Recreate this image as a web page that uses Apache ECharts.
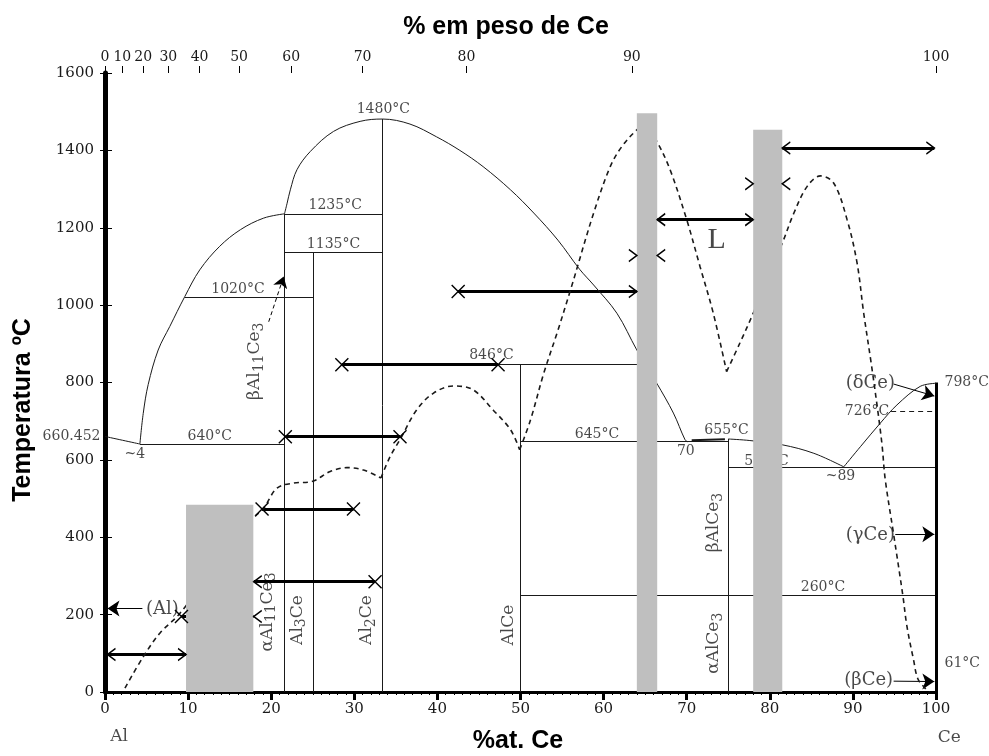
<!DOCTYPE html>
<html>
<head>
<meta charset="utf-8">
<title>Diagrama Al-Ce</title>
<script src="https://cdn.jsdelivr.net/npm/echarts@6/dist/echarts.min.js"></script>
<style>
  html, body { margin: 0; padding: 0; background: #fff; }
  #chart { width: 989px; height: 756px; }
</style>
</head>
<body>
<div id="chart"></div>
<script>
// escala superior: % em peso (posicao lida em %at.)
var wtLabels = ['0', '10', '20', '30', '40', '50', '60', '70', '80', '90', '100'];
var wtTickAt = [0, 2.09, 4.59, 7.62, 11.38, 16.14, 22.41, 31.0, 43.5, 63.4, 100];

// linhas de fase (finas, continuas) [%at, T]
var liqLeftA = [[0, 660.5], [4.2, 641]];
var liqLeftB = [[4.2, 641], [4.6, 720], [5.2, 795], [6.4, 884], [7.8, 945], [9.6, 1022], [11.4, 1091],
    [13.8, 1152], [16.3, 1195], [19.1, 1225], [21.6, 1236]];
var liqTop = [[21.6, 1236], [21.9, 1262], [22.3, 1298], [23.1, 1350], [24.7, 1397], [27.5, 1449], [30.7, 1475],
    [33.4, 1481], [36.7, 1468], [39.9, 1435], [42.7, 1400], [45.5, 1358], [48.8, 1298], [51.6, 1238],
    [54.5, 1168], [57.1, 1093], [58.8, 1052], [61.6, 979], [64.0, 884], [66.4, 798], [68.4, 721],
    [69.8, 652], [70.1, 647]];
var liqRightA = [[75, 654], [77.6, 650], [81.5, 639], [85.3, 617], [88.9, 582]];
var liqRightB = [[88.9, 582], [90.9, 634], [93.3, 695], [95.3, 742], [98.1, 790], [100, 798]];
var phaseSegs = [
    [[21.6, 0], [21.6, 1236]], [[25.05, 0], [25.05, 1136]], [[33.4, 0], [33.4, 1481]],
    [[50, 0], [50, 846]], [[75, 0], [75, 654]],
    [[21.6, 1236], [33.4, 1236]], [[21.6, 1136], [33.4, 1136]], [[9.6, 1021], [25.05, 1021]],
    [[4.2, 641], [21.6, 641]], [[47.3, 846], [65, 846]], [[50, 647], [75, 647]],
    [[75, 580], [100, 580]], [[50, 251], [100, 251]]
];
var seg655 = [[[70.6, 651], [74.6, 653]]];
var seg726 = [[[94.6, 726], [100, 726]]];
var rightThick = [[[100, 0], [100, 800]]];

// curva tracejada
var dashA = [[2.4, 10], [4.6, 91], [6.6, 152], [9.0, 203], [13.5, 330], [17.9, 450], [19.1, 475], [20.7, 527],
    [22.7, 540], [24.9, 544], [27.1, 570], [29.1, 580], [31.1, 574], [33.2, 553]];
var dashB = [[33.2, 553], [34.3, 608], [35.6, 656], [37.5, 729], [39.5, 772], [41.9, 791], [44.3, 781],
    [46.7, 729], [48.8, 678], [49.9, 626]];
var dashC = [[49.9, 626], [51.2, 703], [52.8, 824], [54.4, 928], [56.1, 1045], [58.8, 1238], [60.8, 1358],
    [62.2, 1410], [64.0, 1453], [64.9, 1466], [66.4, 1423], [68.0, 1350], [70.0, 1221], [71.6, 1100],
    [73.2, 979], [74.8, 828]];
var dashD = [[74.8, 828], [76.4, 902], [78.0, 979], [79.8, 1075], [81.5, 1160], [82.9, 1238], [84.5, 1307],
    [86.1, 1334], [87.7, 1315], [89.3, 1221], [90.5, 1109], [91.3, 979], [92.2, 850], [93.0, 726],
    [93.5, 640], [93.9, 548], [94.9, 408], [96.0, 251], [96.5, 170], [97.3, 83], [97.8, 35], [98.6, 12], [99.2, 0]];

// setas grossas [x1, x2, T]
var thickLines = [[0, 9.75, 97], [9.2, 17.9, 195], [17.9, 32.5, 285], [18.9, 29.9, 473], [21.7, 35.5, 660],
    [28.5, 47.3, 846], [42.5, 64.0, 1035], [66.45, 78.0, 1221], [81.5, 99.8, 1406]];
var crossMarks = [[9.2, 195], [18.9, 473], [29.9, 473], [32.5, 285], [21.7, 660], [35.5, 660],
    [28.5, 846], [47.3, 846], [42.5, 1035]];
var leftHeads = [[0.3, 97], [17.9, 195], [17.9, 285], [66.45, 1128], [66.45, 1221], [81.5, 1314], [81.5, 1406]];
var rightHeads = [[9.75, 97], [64.0, 1035], [64.0, 1128], [78.0, 1221], [78.0, 1314], [99.8, 1406]];

// barras cinzas [x0, x1, topo]
var grayBars = [[9.75, 17.85, 484], [64.0, 66.45, 1496], [78.0, 81.5, 1453]];

// setas finas das fases
var phaseArrows = [[[4.5, 216], [0.3, 216]], [[94.9, 796], [99.8, 765]], [[95.1, 408], [99.8, 408]],
    [[94.9, 28], [99.8, 27]]];
var betaArrow = [[[19.7, 957], [21.5, 1074]]];

// textos
var tempLabels = [['1480°C', 33.5, 1505], ['1235°C', 27.7, 1259], ['1135°C', 27.5, 1158],
    ['1020°C', 16.0, 1040], ['640°C', 12.6, 662], ['~4', 3.6, 613], ['846°C', 46.5, 869],
    ['645°C', 59.2, 665], ['70', 69.9, 621], ['655°C', 74.8, 677], ['592°C', 79.6, 596],
    ['~89', 88.5, 557], ['726°C', 91.7, 725], ['260°C', 86.4, 271]];
var phaseLabels = [['(Al)', 6.9, 214], ['(δCe)', 92.1, 798], ['(γCe)', 92.1, 404], ['(βCe)', 91.9, 31]];
var rotLabels = [['βAl_11Ce_3', 18.2, 855], ['αAl_11Ce_3', 19.7, 207], ['Al_3Ce', 23.3, 186],
    ['Al_2Ce', 31.7, 186], ['AlCe', 48.7, 173], ['βAlCe_3', 73.4, 438], ['αAlCe_3', 73.4, 126]];
var leftOut = [['660.452', 0, 662]];
var rightOut = [['798°C', 100, 800], ['61°C', 100, 75]];
var endLabels = [['Al', 1.7, -116], ['Ce', 101.6, -119]];

var chart = echarts.init(document.getElementById('chart'));
var serif = '"DejaVu Serif", serif';
var ink = '#1a1a1a';

function toPoints(list) {
    return list.map(function (d) { return { name: d[0], value: [d[1], d[2]] }; });
}
function toRich(txt) {
    return txt.split(/(_\d+)/).filter(function (p) { return p; }).map(function (p) {
        return p.charAt(0) === '_' ? '{s|' + p.slice(1) + '}' : '{n|' + p + '}';
    }).join('');
}
function curve(data, dashed) {
    return {
        type: 'line', data: data, symbol: 'none', smooth: 0.35, silent: true, z: 2,
        lineStyle: { color: ink, width: dashed ? 1.6 : 1, type: dashed ? [5, 4] : 'solid' }
    };
}
function segs(list, style, extra) {
    style.opacity = 1;
    var s = {
        type: 'lines', coordinateSystem: 'cartesian2d', silent: true, z: 2,
        data: list.map(function (c) { return { coords: c }; }),
        lineStyle: style
    };
    for (var k in extra) s[k] = extra[k];
    return s;
}
function textSeries(list, label, z) {
    return {
        type: 'scatter', data: toPoints(list), symbolSize: 1, clip: false, silent: true, z: z || 3,
        itemStyle: { color: 'rgba(0,0,0,0)' },
        label: Object.assign({ show: true, formatter: '{b}', color: ink, fontFamily: serif }, label)
    };
}
var markStyle = { color: 'rgba(0,0,0,0)', borderColor: '#000', borderWidth: 1.4, opacity: 1 };

var option = {
    animation: false,
    backgroundColor: '#fff',
    grid: { left: 105, right: 53, top: 73, bottom: 64 },
    xAxis: [{
        type: 'value', position: 'bottom', min: 0, max: 100, interval: 10,
        axisLine: { show: true, lineStyle: { color: '#000', width: 3 } },
        axisTick: { show: true, length: 8, lineStyle: { color: '#000', width: 3 } },
        minorTick: { show: true, splitNumber: 10, length: 3, lineStyle: { color: '#000' } },
        splitLine: { show: false },
        axisLabel: { color: ink, fontFamily: serif, fontSize: 15, margin: 10 }
    }, {
        type: 'value', position: 'top', min: 0, max: 100, interval: 10,
        axisLine: { show: true, lineStyle: { color: '#000', width: 1 } },
        axisTick: { show: true, inside: true, length: 8, lineStyle: { color: '#000' } },
        minorTick: { show: true, splitNumber: 10, length: 3, lineStyle: { color: '#000' } },
        splitLine: { show: false },
        axisLabel: { show: false }
    }, {
        type: 'value', position: 'top', min: 0, max: 100,
        axisLine: { show: false },
        axisTick: { show: true, length: 7, customValues: wtTickAt, lineStyle: { color: '#000' } },
        splitLine: { show: false },
        axisLabel: {
            show: true, customValues: wtTickAt, color: ink, fontFamily: serif, fontSize: 14, margin: 9,
            formatter: function (v) {
                var best = 0;
                for (var i = 0; i < wtTickAt.length; i++) {
                    if (Math.abs(wtTickAt[i] - v) < Math.abs(wtTickAt[best] - v)) best = i;
                }
                return wtLabels[best];
            }
        }
    }],
    yAxis: [{
        type: 'value', position: 'left', min: 0, max: 1600, interval: 200,
        axisLine: { show: true, lineStyle: { color: '#000', width: 5 } },
        axisTick: { show: true, length: 5, lineStyle: { color: '#000' } },
        splitLine: { show: false },
        axisLabel: { color: ink, fontFamily: serif, fontSize: 15, margin: 11,
            formatter: function (v) { return String(v); } }
    }, {
        type: 'value', position: 'right', min: 0, max: 1600, interval: 200,
        axisLine: { show: true, lineStyle: { color: '#000', width: 1 } },
        axisTick: { show: true, length: 7, lineStyle: { color: '#000' } },
        minorTick: { show: true, splitNumber: 10, length: 3, lineStyle: { color: '#000' } },
        splitLine: { show: false },
        axisLabel: { show: false }
    }],
    graphic: [
        { type: 'text', x: 506, y: 27, style: { text: '% em peso de Ce', font: 'bold 25px "Liberation Sans", Arial',
            fill: '#000', align: 'center', verticalAlign: 'middle', textAlign: 'center', textVerticalAlign: 'middle' } },
        { type: 'text', x: 518, y: 741, style: { text: '%at. Ce', font: 'bold 25px "Liberation Sans", Arial',
            fill: '#000', align: 'center', verticalAlign: 'middle', textAlign: 'center', textVerticalAlign: 'middle' } },
        { type: 'text', x: 23, y: 410, rotation: Math.PI / 2, style: { text: 'Temperatura ºC',
            font: 'bold 25px "Liberation Sans", Arial', fill: '#000', align: 'center', verticalAlign: 'middle',
            textAlign: 'center', textVerticalAlign: 'middle' } }
    ],
    series: [
        curve(liqLeftA), curve(liqLeftB), curve(liqTop), curve(liqRightA), curve(liqRightB),
        segs(phaseSegs, { color: ink, width: 1 }),
        segs(seg655, { color: ink, width: 2 }),
        segs(seg726, { color: ink, width: 1.2, type: [5, 4] }),
        segs(rightThick, { color: '#000', width: 3 }),
        curve(dashA, true), curve(dashB, true), curve(dashC, true), curve(dashD, true),
        segs(thickLines.map(function (d) { return [[d[0], d[2]], [d[1], d[2]]]; }), { color: '#000', width: 3 }),
        segs(phaseArrows, { color: '#000', width: 1 }, { symbol: ['none', 'arrow'], symbolSize: [9, 12] }),
        segs(betaArrow, { color: '#000', width: 1, type: [4, 3] }, { symbol: ['none', 'arrow'], symbolSize: [7, 11] }),
        textSeries(tempLabels, { position: 'inside', fontSize: 14 }),
        textSeries(phaseLabels, { position: 'inside', fontSize: 18 }),
        textSeries(rotLabels.map(function (d) { return [toRich(d[0]), d[1], d[2]]; }), {
            position: 'inside', rotate: 90,
            rich: {
                n: { fontFamily: serif, fontSize: 17, lineHeight: 20, verticalAlign: 'top', color: ink },
                s: { fontFamily: serif, fontSize: 14, lineHeight: 10, verticalAlign: 'bottom', color: ink }
            }
        }),
        textSeries([['L', 73.6, 1169]], { position: 'inside', fontSize: 30, fontFamily: '"Liberation Serif", serif' }),
        textSeries(leftOut, { position: 'left', distance: 4, fontSize: 14 }),
        textSeries(rightOut, { position: 'right', distance: 8, fontSize: 14 }),
        textSeries(endLabels, { position: 'inside', fontSize: 17 }),
        {
            type: 'custom', silent: true, z: 5, data: grayBars,
            encode: { x: [0, 1], y: 2 },
            renderItem: function (params, api) {
                var p0 = api.coord([api.value(0), api.value(2)]);
                var p1 = api.coord([api.value(1), 0]);
                return { type: 'rect', shape: { x: p0[0], y: p0[1], width: p1[0] - p0[0], height: p1[1] - p0[1] },
                    style: { fill: '#bfbfbf' } };
            }
        },
        {
            type: 'scatter', data: crossMarks, silent: true, z: 6, clip: false,
            symbol: 'path://M0,0L10,10M10,0L0,10', symbolSize: 13, itemStyle: markStyle
        },
        {
            type: 'scatter', data: leftHeads, silent: true, z: 6, clip: false,
            symbol: 'path://M10,0L0,5L10,10', symbolSize: [8, 12], symbolOffset: [4, 0], itemStyle: markStyle
        },
        {
            type: 'scatter', data: rightHeads, silent: true, z: 6, clip: false,
            symbol: 'path://M0,0L10,5L0,10', symbolSize: [8, 12], symbolOffset: [-4, 0], itemStyle: markStyle
        }
    ]
};
chart.setOption(option);
</script>
</body>
</html>
